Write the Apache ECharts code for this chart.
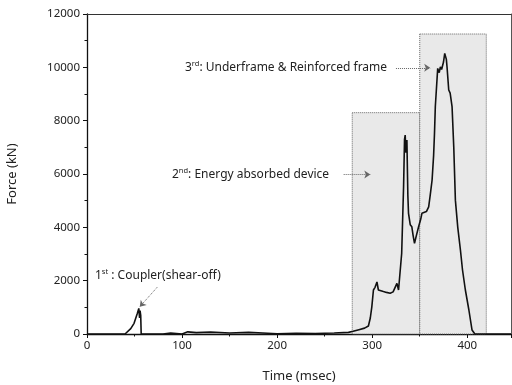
<!DOCTYPE html>
<html>
<head>
<meta charset="utf-8">
<script src="https://cdn.jsdelivr.net/npm/echarts@6/dist/echarts.min.js"></script>
<style>
  html, body { margin: 0; padding: 0; background: #fff; }
  #chart { width: 512px; height: 385px; }
</style>
</head>
<body>
<div id="chart"></div>
<script>
// time (msec) and force (kN)
const times = [0, 20, 40, 42, 46, 49.5, 53, 54.5, 55.3, 55.8, 56.5, 57, 60, 80, 88, 100, 106, 115, 130, 150, 170, 190, 200, 220, 240, 260, 275,
  280, 286, 292, 296, 298, 299.6, 301.3, 303, 305, 306.5, 308, 311.8, 315, 318.9, 322, 324, 326, 327.7, 329.5,
  331, 333, 334, 334.7, 335.5, 336.5, 337.5, 338.2, 340, 341.7, 343, 344.5, 346.5, 348.8, 351, 352.3, 354, 357, 359.4,
  361, 363, 364.6, 365.5, 366.4, 368.9, 370.5, 371.7, 373, 375, 376.3, 377, 378, 378.7, 380.5, 382, 384, 385.8,
  387.5, 390, 392.8, 395, 398, 401.7, 405, 408, 420, 446];
const forces = [0, 0, 0, 30, 200, 400, 780, 960, 600, 880, 700, 0, 0, 0, 40, 0, 80, 50, 70, 40, 60, 30, 10, 30, 20, 40, 60,
  100, 160, 220, 300, 600, 1020, 1650, 1750, 1950, 1650, 1700, 1590, 1560, 1530, 1580, 1600, 1900, 1650, 1600,
  3020, 5520, 7300, 7460, 6800, 7270, 5200, 4525, 4100, 4020, 3700, 3400, 3700, 4020, 4300, 4525, 4460, 4590, 4770,
  5200, 5775, 6700, 7500, 8530, 9960, 9800, 10020, 9920, 10200, 10525, 10590, 10300, 10020, 9150, 9030, 8530, 7000,
  5020, 4000, 3150, 2400, 1650, 900, 150, 0, 0, 0];

// shaded stages: [start, end, top]
const stage2 = [279, 350, 8300];
const stage3 = [350, 420, 11250];

const xTicks = [0, 100, 200, 300, 400];
const yTicks = [0, 2000, 4000, 6000, 8000, 10000, 12000];

const font = '"Noto Sans", "DejaVu Sans", sans-serif';

const myChart = echarts.init(document.getElementById('chart'));

const seriesData = times.map((t, i) => [t, forces[i]]);

const noteStyle = {
  fontFamily: font,
  fontSize: 12,
  fill: '#222',
  rich: {
    b: { fontFamily: font, fontSize: 12, color: '#222', lineHeight: 15 },
    s: { fontFamily: font, fontSize: 7.5, color: '#222', verticalAlign: 'top', lineHeight: 15, padding: [0, 0, 6, 0] }
  }
};

myChart.setOption({
  animation: false,
  grid: { left: 87, top: 14, width: 424, height: 320, outerBoundsMode: 'none', containLabel: false },
  xAxis: [
    {
      type: 'value',
      min: 0,
      max: 446,
      interval: 100,
      name: 'Time (msec)',
      nameLocation: 'middle',
      nameGap: 36,
      nameTextStyle: { fontFamily: font, fontSize: 13, color: '#222' },
      axisLine: { lineStyle: { color: '#111', width: 1.3 } },
      axisTick: { length: 4, lineStyle: { color: '#111' } },
      minorTick: { show: true, splitNumber: 2, length: 2.5, lineStyle: { color: '#111' } },
      axisLabel: {
        fontFamily: font, fontSize: 11.5, color: '#222', margin: 6,
        formatter: v => (xTicks.includes(v) ? String(v) : '')
      },
      splitLine: { show: false }
    },
    {
      type: 'value',
      position: 'top',
      min: 0,
      max: 446,
      axisLine: { show: true, onZero: false, lineStyle: { color: '#333', width: 1 } },
      axisTick: { show: false },
      axisLabel: { show: false },
      splitLine: { show: false }
    }
  ],
  yAxis: [
    {
      type: 'value',
      min: 0,
      max: 12000,
      interval: 2000,
      name: 'Force (kN)',
      nameLocation: 'middle',
      nameGap: 68,
      nameTextStyle: { fontFamily: font, fontSize: 13, color: '#222' },
      axisLine: { show: true, lineStyle: { color: '#111', width: 1.3 } },
      axisTick: { show: true, length: 4, lineStyle: { color: '#111' } },
      minorTick: { show: true, splitNumber: 2, length: 2.5, lineStyle: { color: '#111' } },
      axisLabel: {
        fontFamily: font, fontSize: 11.5, color: '#222', margin: 7,
        formatter: v => (yTicks.includes(v) ? String(v) : '')
      },
      splitLine: { show: false }
    },
    {
      type: 'value',
      position: 'right',
      min: 0,
      max: 12000,
      axisLine: { show: true, onZero: false, lineStyle: { color: '#555', width: 1 } },
      axisTick: { show: false },
      axisLabel: { show: false },
      splitLine: { show: false }
    }
  ],
  series: [
    {
      type: 'line',
      data: seriesData,
      showSymbol: false,
      symbol: 'none',
      lineStyle: { color: '#111', width: 1.6 },
      z: 5,
      markArea: {
        silent: true,
        itemStyle: { color: '#e9e9e9', borderColor: '#666', borderWidth: 1, borderType: 'dotted' },
        data: [
          [{ coord: [stage2[0], stage2[2]] }, { coord: [stage2[1], 0] }],
          [{ coord: [stage3[0], stage3[2]] }, { coord: [stage3[1], 0] }]
        ]
      },
      markLine: {
        silent: true,
        symbol: ['none', 'arrow'],
        symbolSize: 6,
        label: { show: false },
        lineStyle: { color: '#666', type: 'dotted', width: 1 },
        data: [
          [{ coord: [325, 9980] }, { coord: [361, 9980] }],
          [{ coord: [270, 5980] }, { coord: [298, 5980] }],
          [{ coord: [74, 1760] }, { coord: [55.5, 1020] }]
        ]
      }
    }
  ],
  graphic: [
    { type: 'text', left: 185, top: 60, style: Object.assign({ text: '{b|3}{s|rd}{b|: Underframe & Reinforced frame}' }, noteStyle) },
    { type: 'text', left: 172, top: 167, style: Object.assign({ text: '{b|2}{s|nd}{b|: Energy absorbed device}' }, noteStyle) },
    { type: 'text', left: 95, top: 268, style: Object.assign({ text: '{b|1}{s|st}{b| : Coupler(shear-off)}' }, noteStyle) }
  ]
});
</script>
</body>
</html>
